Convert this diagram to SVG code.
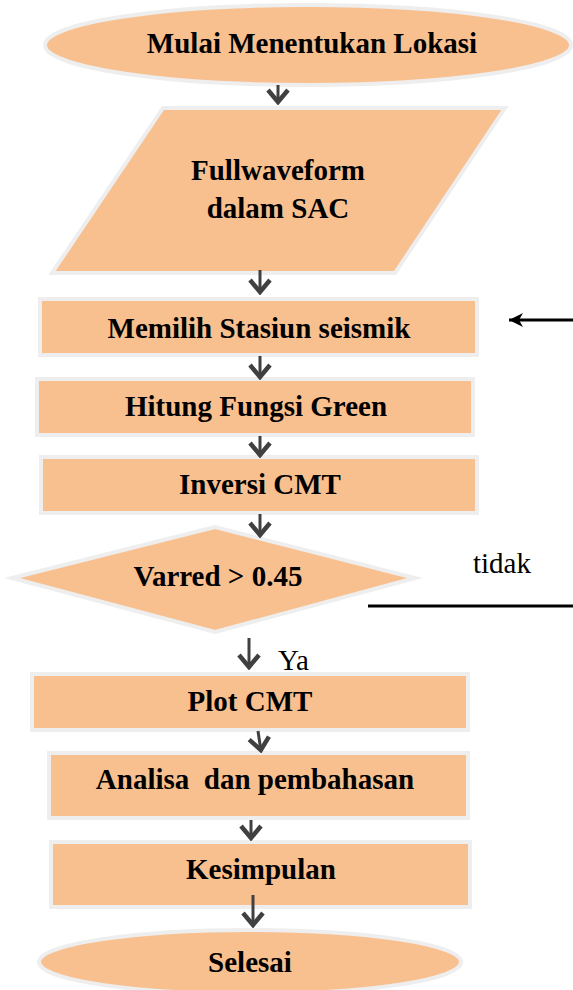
<svg xmlns="http://www.w3.org/2000/svg" width="573" height="990" viewBox="0 0 573 990">
<style>
.n{fill:#f8bf8f;stroke:#eeeeee;stroke-width:4}
.t{font-family:"Liberation Serif","Times New Roman",serif;font-size:29px;font-weight:bold;fill:#000;text-anchor:middle;white-space:pre}
.l{font-family:"Liberation Serif","Times New Roman",serif;font-size:29px;fill:#000}
.c{stroke:#404040;stroke-width:3;fill:none}
</style>
<defs>
<marker id="chev" viewBox="-16 -12 18 24" markerWidth="18" markerHeight="24" refX="0" refY="0" orient="auto" markerUnits="userSpaceOnUse">
<path d="M-13,-10 L-1,0 L-13,10" fill="none" stroke="#404040" stroke-width="4.5"/>
</marker>
<marker id="blk" viewBox="-16 -8 18 16" markerWidth="18" markerHeight="16" refX="0" refY="0" orient="auto" markerUnits="userSpaceOnUse">
<path d="M0,0 L-14,-7 L-10,0 L-14,7 Z" fill="#000"/>
</marker>
</defs>
<g id="start"><ellipse class="n" cx="308" cy="45" rx="263" ry="40"/><text class="t" x="312" y="53">Mulai Menentukan Lokasi</text></g>
<g id="input"><polygon class="n" points="163,108 505,108 395,273 52,273"/><text class="t" x="278" y="180">Fullwaveform</text><text class="t" x="278" y="218">dalam SAC</text></g>
<g id="memilih"><rect class="n" x="40" y="299" width="437" height="56"/><text class="t" x="259" y="338">Memilih Stasiun seismik</text></g>
<g id="hitung"><rect class="n" x="37" y="379" width="436" height="56"/><text class="t" x="256" y="416">Hitung Fungsi Green</text></g>
<g id="inversi"><rect class="n" x="41" y="457" width="436" height="56"/><text class="t" x="260" y="494">Inversi CMT</text></g>
<g id="varred"><polygon class="n" points="12,578 215,527 415,578 215,632"/><text class="t" x="218" y="586">Varred &gt; 0.45</text></g>
<g id="plot"><rect class="n" x="32" y="674" width="436" height="56"/><text class="t" x="250" y="711">Plot CMT</text></g>
<g id="analisa"><rect class="n" x="49" y="753" width="419" height="65"/><text class="t" x="255" y="789">Analisa  dan pembahasan</text></g>
<g id="kesimpulan"><rect class="n" x="51" y="842" width="419" height="65"/><text class="t" x="261" y="879">Kesimpulan</text></g>
<g id="selesai"><ellipse class="n" cx="250" cy="962" rx="211" ry="32"/><text class="t" x="250" y="972">Selesai</text></g>
<g id="connectors">
<path class="c" d="M278,85 V103" marker-end="url(#chev)"/>
<path class="c" d="M260,270 V293" marker-end="url(#chev)"/>
<path class="c" d="M260,356 V378" marker-end="url(#chev)"/>
<path class="c" d="M260,436 V456" marker-end="url(#chev)"/>
<path class="c" d="M260,514 V536" marker-end="url(#chev)"/>
<path class="c" d="M249,638 V668" marker-end="url(#chev)"/>
<path class="c" d="M258,731 L261,751" marker-end="url(#chev)"/>
<path class="c" d="M251,820 V839" marker-end="url(#chev)"/>
<path class="c" d="M253,895 V926" marker-end="url(#chev)"/>
<path d="M368,606 H573" stroke="#000" stroke-width="3" fill="none"/>
<path d="M573,320 H509" stroke="#000" stroke-width="3" fill="none" marker-end="url(#blk)"/>
<text class="l" x="473" y="573">tidak</text>
<text class="l" x="278" y="670">Ya</text>
</g>
</svg>
